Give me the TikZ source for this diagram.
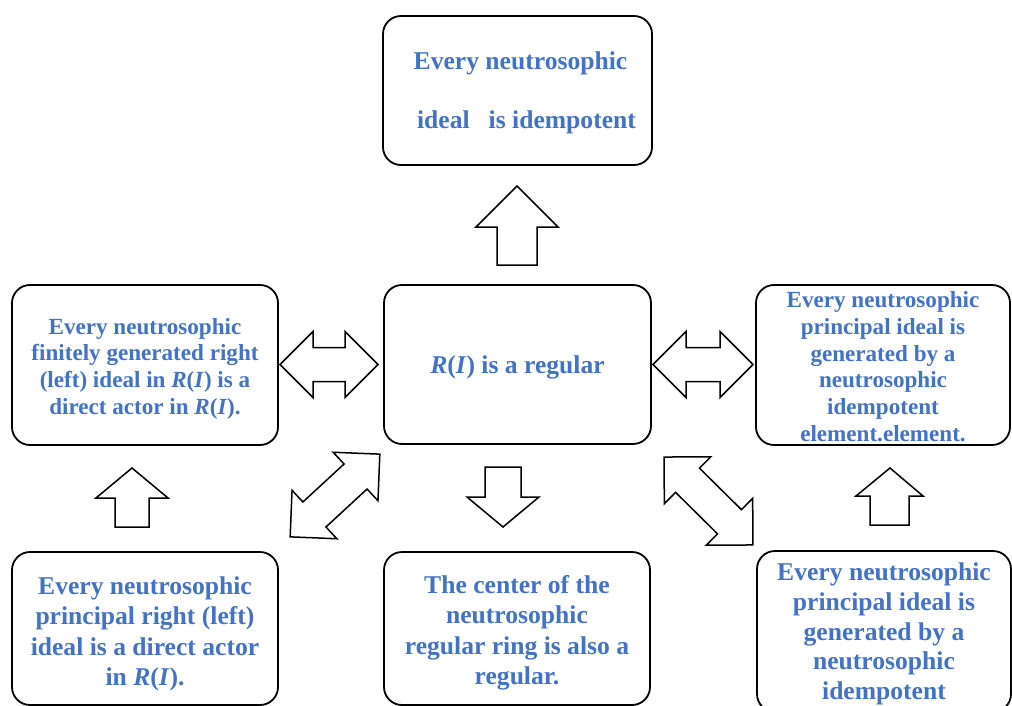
\documentclass[tikz,border=0pt]{standalone}
\usepackage{fontspec}
\setmainfont{Liberation Serif}
\definecolor{txtblue}{HTML}{4472C4}
\tikzset{
  box/.style={draw=black, line width=1.8pt, rounded corners=18pt, inner sep=0pt},
  txt/.style={align=center, text=txtblue, inner sep=0pt},
  small/.style={txt, font=\bfseries\fontsize{23.1}{26.7}\selectfont},
  large/.style={txt, font=\bfseries\fontsize{25.6}{30.5}\selectfont},
  barrow/.style={draw=black, line width=1.5pt, fill=white, line join=miter},
}
\newcommand\mydblarrow[4]{%
  \draw[barrow, shift={(#1,#2)}, rotate=#3]
    ({-#4},0) -- ({-#4+33},33) -- ({-#4+33},17) -- ({#4-33},17) -- ({#4-33},33)
    -- ({#4},0) -- ({#4-33},-33) -- ({#4-33},-17) -- ({-#4+33},-17) -- ({-#4+33},-33) -- cycle;}
\begin{document}
\begin{tikzpicture}[x=1pt,y=-1pt]
\useasboundingbox (0,0) rectangle (1012,706);
\clip (0,0) rectangle (1012,706);
\fill[white] (0,0) rectangle (1012,706);

% boxes
\node[box, minimum width=269pt, minimum height=149pt] (top) at (517.5,90.5) {};
\node[box, minimum width=267pt, minimum height=159pt] (center) at (517.5,364.5) {};
\node[box, minimum width=266pt, minimum height=160pt] (left) at (145,365) {};
\node[box, minimum width=254pt, minimum height=160pt] (right) at (883,365) {};
\node[box, minimum width=266pt, minimum height=153pt] (bl) at (145,628.5) {};
\node[box, minimum width=266pt, minimum height=153pt] (bc) at (517,628.5) {};
\node[box, minimum width=254pt, minimum height=161pt] (br) at (884,631.5) {};

% texts
\node[large] (topT) at ([xshift=3pt,yshift=-2.5pt]top.center)
  {Every neutrosophic\\[28.5pt]\hspace*{12pt}ideal\hspace{19pt}is idempotent};
\node[large] (centerT) at ([yshift=-3pt]center.center)
  {\textit{R}(\textit{I}) is a regular};
\node[small] (leftT) at ([yshift=-3.5pt]left.center)
  {Every neutrosophic\\ finitely generated right\\ (left) ideal in \textit{R}(\textit{I}) is a\\ direct actor in \textit{R}(\textit{I}).};
\node[small] (rightT) at ([yshift=-1.5pt]right.center)
  {Every neutrosophic\\ principal ideal is\\ generated by a\\ neutrosophic\\ idempotent\\ element.element.};
\node[large] (blT) at ([yshift=-5.5pt]bl.center)
  {Every neutrosophic\\ principal right (left)\\ ideal is a direct actor\\ in \textit{R}(\textit{I}).};
\node[large] (bcT) at ([yshift=-4.5pt]bc.center)
  {The center of the\\ neutrosophic\\ regular ring is also a\\ regular.};
\node[large, font=\bfseries\fontsize{25.6}{29.8}\selectfont] (brT) at ([yshift=-2.5pt]br.center)
  {Every neutrosophic\\ principal ideal is\\ generated by a\\ neutrosophic\\ idempotent};

% single block arrows
\draw[barrow] (517,186) -- (558,227) -- (537,227) -- (537,265) -- (497,265) -- (497,227) -- (476,227) -- cycle;
\draw[barrow] (132,468) -- (168,498) -- (149,498) -- (149,527) -- (115,527) -- (115,498) -- (96,498) -- cycle;
\draw[barrow] (890,468) -- (923,496) -- (909,496) -- (909,525) -- (870,525) -- (870,496) -- (856,496) -- cycle;
\draw[barrow] (503,527) -- (539,497) -- (521,497) -- (521,467) -- (485,467) -- (485,497) -- (467,497) -- cycle;

% double block arrows
\mydblarrow{329}{364.5}{0}{49}
\mydblarrow{703}{364.5}{0}{50}
\mydblarrow{335}{495.5}{42.7}{61}
\mydblarrow{708.5}{501}{-44.7}{62.5}
\end{tikzpicture}
\end{document}
